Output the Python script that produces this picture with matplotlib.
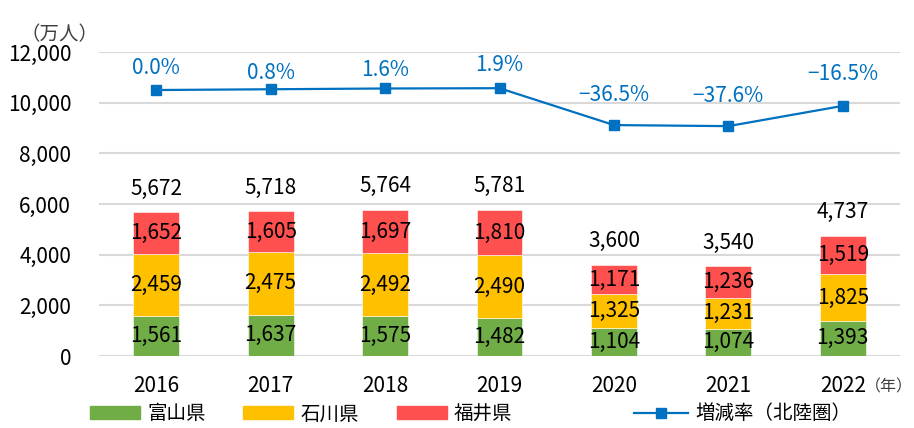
import numpy as np
import matplotlib
matplotlib.use("Agg")
import matplotlib.pyplot as plt
from matplotlib.lines import Line2D
from matplotlib.patches import Patch

plt.rcParams["font.family"] = ["Noto Sans CJK JP", "DejaVu Sans"]

years = ["2016", "2017", "2018", "2019", "2020", "2021", "2022"]
toyama = [1561, 1637, 1575, 1482, 1104, 1074, 1393]
ishikawa = [2459, 2475, 2492, 2490, 1325, 1231, 1825]
fukui = [1652, 1605, 1697, 1810, 1171, 1236, 1519]
totals = [5672, 5718, 5764, 5781, 3600, 3540, 4737]
rate = [0.0, 0.8, 1.6, 1.9, -36.5, -37.6, -16.5]
rate_off = [16, 12, 13, 17, 22, 22, 23]   # label offset above marker (pt)

C_G, C_Y, C_R, C_L = "#70AD47", "#FFC000", "#FF5050", "#0070C0"
FS = 15

fig = plt.figure(figsize=(9.14, 4.28), dpi=100)
ax = fig.add_axes([0.1083, 0.1682, 0.8764, 0.7103])
x = np.arange(len(years))
w = 0.4

b0 = np.zeros(len(years))
for vals, col in [(toyama, C_G), (ishikawa, C_Y), (fukui, C_R)]:
    v = np.array(vals)
    ax.bar(x, v, w, bottom=b0, color=col, edgecolor="white", linewidth=0.4, zorder=3)
    for xi, bi, vi in zip(x, b0, v):
        ax.text(xi, bi + vi / 2, f"{vi:,}", ha="center", va="center", fontsize=FS, zorder=4)
    b0 = b0 + v
for xi, t in zip(x, totals):
    ax.annotate(f"{t:,}", (xi, t), xytext=(0, 17), textcoords="offset points",
                ha="center", va="center", fontsize=FS)

ax.set_xlim(-0.5, len(years) - 0.5)
ax.set_ylim(0, 12000)
ax.set_yticks(np.arange(0, 12001, 2000))
ax.set_yticklabels([f"{v:,}" for v in range(0, 12001, 2000)])
ax.set_xticks(x)
ax.set_xticklabels(years)
ax.tick_params(length=0, labelsize=FS)
ax.tick_params(axis="y", pad=20)
ax.tick_params(axis="x", pad=14)
ax.grid(axis="y", color="#D9D9D9", linewidth=1.5, zorder=0)
for s in ax.spines.values():
    s.set_visible(False)

ax2 = ax.twinx()
ax2.set_ylim(-277, 39.6)
ax2.plot(x, rate, color=C_L, lw=1.6, marker="s", ms=7.5, zorder=5)
for xi, r, o in zip(x, rate, rate_off):
    lab = f"{r:.1f}%".replace("-", "\u2212")
    ax2.annotate(lab, (xi, r), xytext=(0, o), textcoords="offset points",
                 ha="center", va="center", fontsize=FS, color=C_L)
ax2.set_yticks([])
for s in ax2.spines.values():
    s.set_visible(False)

fig.text(0.022, 0.918, "（万人）", fontsize=FS - 1, color="#404040", va="center")
fig.text(0.999, 0.097, "（年）", fontsize=11.5, color="#404040", va="center", ha="right")

LFS = 14
bar_h = [Patch(color=C_G), Patch(color=C_Y), Patch(color=C_R)]
fig.legend(bar_h, ["富山県", "石川県", "福井県"], loc="center left",
           bbox_to_anchor=(0.090, 0.033), ncol=3, frameon=False, fontsize=LFS,
           borderaxespad=0, handlelength=2.57, handleheight=0.6, handletextpad=0.36,
           columnspacing=1.95)
line_h = [Line2D([0], [0], color=C_L, lw=1.6, marker="s", ms=7.5)]
fig.legend(line_h, ["増減率（北陸圏）"], loc="center left", bbox_to_anchor=(0.685, 0.033),
           frameon=False, fontsize=LFS, borderaxespad=0, handlelength=2.78,
           handletextpad=0.36)

fig.savefig("out.png", dpi=100)
